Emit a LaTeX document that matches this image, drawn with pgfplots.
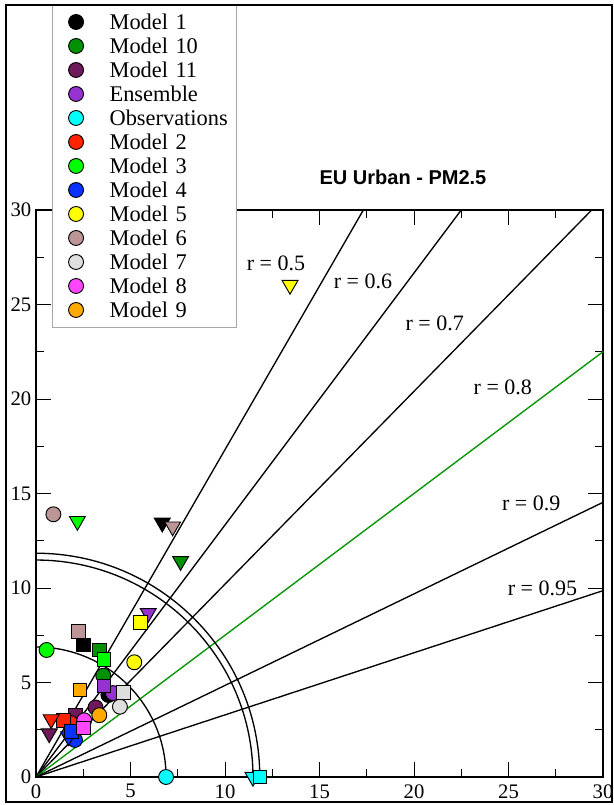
\documentclass[border=0pt]{standalone}
\usepackage{fontspec}
\setmainfont{Liberation Serif}
\setsansfont{Liberation Sans}
\usepackage{pgfplots}
\pgfplotsset{compat=1.18}
\definecolor{cM1}{RGB}{0,0,0}
\definecolor{cM10}{RGB}{0,145,0}
\definecolor{cM11}{RGB}{110,25,90}
\definecolor{cEns}{RGB}{150,50,210}
\definecolor{cObs}{RGB}{0,255,255}
\definecolor{cM2}{RGB}{255,35,0}
\definecolor{cM3}{RGB}{0,255,0}
\definecolor{cM4}{RGB}{10,50,255}
\definecolor{cM5}{RGB}{255,255,0}
\definecolor{cM6}{RGB}{188,150,150}
\definecolor{cM7}{RGB}{222,222,222}
\definecolor{cM8}{RGB}{255,70,255}
\definecolor{cM9}{RGB}{255,170,0}
\definecolor{cLineG}{RGB}{0,150,0}
\pgfplotsset{
  circ/.style={only marks, mark=*, mark size=5.6pt, mark options={fill=#1, draw=black, line width=0.7pt}, forget plot},
  sqr/.style={only marks, mark=square*, mark size=5.1pt, mark options={fill=#1, draw=black, line width=0.7pt}, forget plot},
  tri/.style={only marks, mark=triangle*, mark size=6.9pt, mark options={fill=#1, draw=black, line width=0.7pt, rotate=180}, forget plot},
  legcirc/.style={only marks, mark=*, mark size=5.6pt, mark options={fill=#1, draw=black, line width=0.7pt},
    legend image code/.code={\path (0pt,0pt) (34pt,0pt); \draw[##1] plot coordinates {(17.25pt,0pt)};}},
  rline/.style={black, line width=1pt, no marks, forget plot},
}
\begin{document}
\begin{tikzpicture}
\useasboundingbox (-27pt,-21pt) rectangle (432.75pt,582.75pt);
\begin{axis}[
  at={(0pt,0pt)}, anchor=south west,
  scale only axis, width=425.25pt, height=425.25pt,
  xmin=0, xmax=30, ymin=0, ymax=30,
  xtick={0,5,...,30}, ytick={0,5,...,30},
  minor tick num=1,
  tick align=inside,
  major tick length=11.25pt, minor tick length=6pt,
  every tick/.style={black, line width=0.7pt},
  axis line style={line width=1.1pt},
  tick label style={font=\fontsize{15.5}{18}\selectfont},
  /pgf/number format/assume math mode=true,
  xticklabel style={yshift=-2pt},
  legend cell align=left,
  legend style={
    at={(0.02822,0.7919)}, anchor=south west,
    draw=gray!70, line width=0.8pt, fill=white,
    inner xsep=0pt, inner ysep=4.1pt,
    row sep=0pt, column sep=8pt,
    font=\fontsize{16.8}{18}\selectfont,
    nodes={inner sep=0pt, text width=95.25pt, text height=14.5pt, text depth=3.5pt, align=left},
  },
]
% Model 1
\addplot[circ=cM1] coordinates {(3.83,4.34)};
\addplot[sqr=cM1] coordinates {(2.5,6.99)};
\addplot[tri=cM1] coordinates {(6.68,13.45)};
% Model 10
\addplot[circ=cM10] coordinates {(3.56,5.36)};
\addplot[sqr=cM10] coordinates {(3.35,6.73)};
\addplot[tri=cM10] coordinates {(7.65,11.42)};
% Model 11
\addplot[circ=cM11] coordinates {(3.15,3.68)};
\addplot[sqr=cM11] coordinates {(2.1,3.28)};
\addplot[tri=cM11] coordinates {(0.7,2.3)};
% Ensemble
\addplot[circ=cEns] coordinates {(4.07,4.44)};
\addplot[sqr=cEns] coordinates {(3.6,4.81)};
\addplot[tri=cEns] coordinates {(5.94,8.67)};
% Observations
\addplot[circ=cObs] coordinates {(6.88,0)};
\addplot[tri=cObs] coordinates {(11.48,0)};
\addplot[sqr=cObs] coordinates {(11.84,0)};
% Model 2
\addplot[circ=cM2] coordinates {(1.85,2.85)};
\addplot[sqr=cM2] coordinates {(1.45,3.0)};
\addplot[tri=cM2] coordinates {(0.8,3.05)};
% Model 3
\addplot[circ=cM3] coordinates {(0.56,6.72)};
\addplot[sqr=cM3] coordinates {(3.6,6.23)};
\addplot[tri=cM3] coordinates {(2.19,13.54)};
% Model 4
\addplot[circ=cM4] coordinates {(2.06,1.96)};
\addplot[tri=cM4] coordinates {(1.72,2.15)};
\addplot[sqr=cM4] coordinates {(1.89,2.4)};
% Model 5
\addplot[circ=cM5] coordinates {(5.2,6.07)};
\addplot[sqr=cM5] coordinates {(5.54,8.18)};
\addplot[tri=cM5] coordinates {(13.44,26.03)};
% Model 6
\addplot[circ=cM6] coordinates {(0.92,13.9)};
\addplot[sqr=cM6] coordinates {(2.26,7.7)};
\addplot[tri=cM6] coordinates {(7.23,13.25)};
% Model 7
\addplot[circ=cM7] coordinates {(4.44,3.72)};
\addplot[sqr=cM7] coordinates {(4.62,4.46)};
% Model 8
\addplot[circ=cM8] coordinates {(2.55,3.0)};
\addplot[sqr=cM8] coordinates {(2.5,2.6)};
% Model 9
\addplot[circ=cM9] coordinates {(3.35,3.27)};
\addplot[sqr=cM9] coordinates {(2.33,4.6)};
% correlation lines
\addplot[rline] coordinates {(0,0) (22.5,38.97)};
\addplot[rline] coordinates {(0,0) (27,36)};
\addplot[rline] coordinates {(0,0) (31.5,32.14)};
\addplot[rline, cLineG] coordinates {(0,0) (36,27)};
\addplot[rline] coordinates {(0,0) (40.5,19.62)};
\addplot[rline] coordinates {(0,0) (42.75,14.05)};
% std arcs
\draw[black, line width=1pt] (axis cs:0,6.88) arc[start angle=90, end angle=0, radius=6.88*14.175pt];
\draw[black, line width=1pt] (axis cs:0,11.48) arc[start angle=90, end angle=0, radius=11.48*14.175pt];
\draw[black, line width=1pt] (axis cs:0,11.84) arc[start angle=90, end angle=0, radius=11.84*14.175pt];
% labels
\node[font=\fontsize{16.5}{18}\selectfont] at (axis cs:12.7,27.2) {r = 0.5};
\node[font=\fontsize{16.5}{18}\selectfont] at (axis cs:17.3,26.2) {r = 0.6};
\node[font=\fontsize{16.5}{18}\selectfont] at (axis cs:21.1,24.0) {r = 0.7};
\node[font=\fontsize{16.5}{18}\selectfont] at (axis cs:24.7,20.6) {r = 0.8};
\node[font=\fontsize{16.5}{18}\selectfont] at (axis cs:26.2,14.5) {r = 0.9};
\node[font=\fontsize{16.5}{18}\selectfont] at (axis cs:26.8,10.0) {r = 0.95};
% legend
\addlegendimage{legcirc=cM1}\addlegendentry{Model 1}
\addlegendimage{legcirc=cM10}\addlegendentry{Model 10}
\addlegendimage{legcirc=cM11}\addlegendentry{Model 11}
\addlegendimage{legcirc=cEns}\addlegendentry{Ensemble}
\addlegendimage{legcirc=cObs}\addlegendentry{Observations}
\addlegendimage{legcirc=cM2}\addlegendentry{Model 2}
\addlegendimage{legcirc=cM3}\addlegendentry{Model 3}
\addlegendimage{legcirc=cM4}\addlegendentry{Model 4}
\addlegendimage{legcirc=cM5}\addlegendentry{Model 5}
\addlegendimage{legcirc=cM6}\addlegendentry{Model 6}
\addlegendimage{legcirc=cM7}\addlegendentry{Model 7}
\addlegendimage{legcirc=cM8}\addlegendentry{Model 8}
\addlegendimage{legcirc=cM9}\addlegendentry{Model 9}
\end{axis}
\node[font=\fontsize{15}{18}\sffamily\bfseries] at (275.25pt,450pt) {EU Urban - PM2.5};
\draw[black, line width=1.5pt] (-22.5pt,-18.75pt) rectangle (432pt,579pt);
\end{tikzpicture}
\end{document}
